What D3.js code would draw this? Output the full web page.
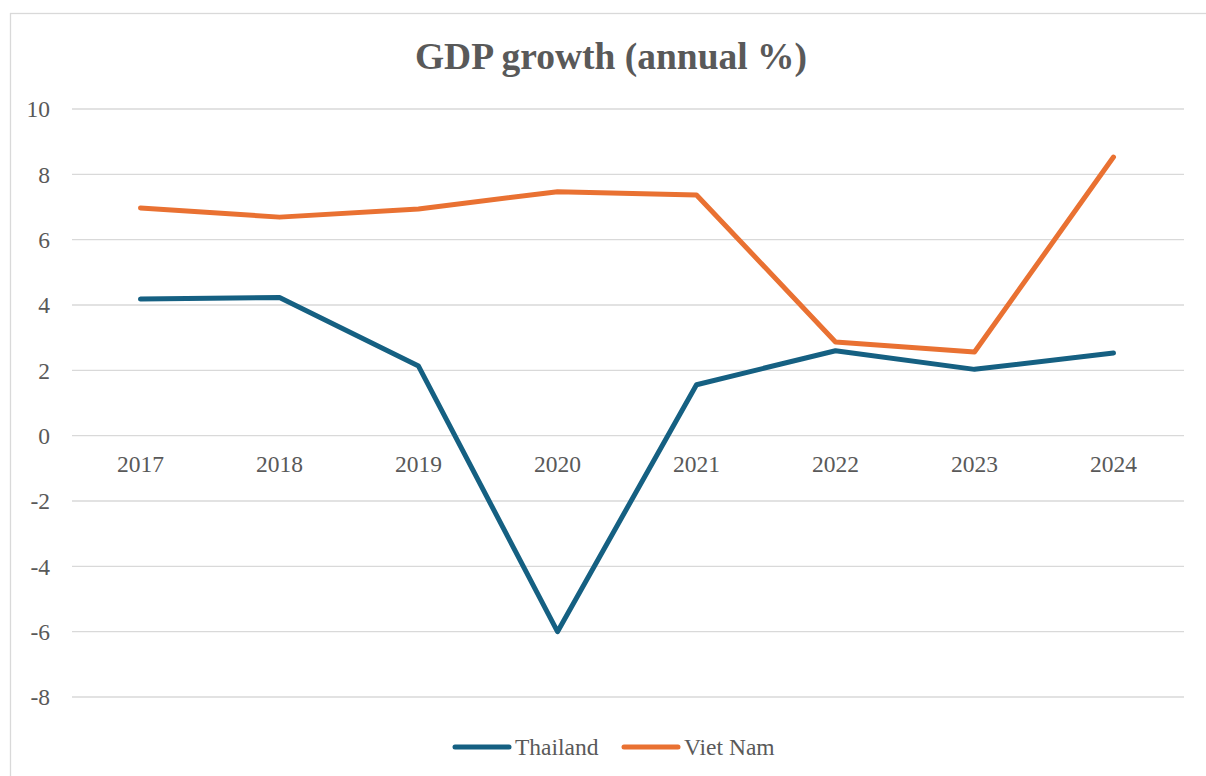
<!DOCTYPE html>
<html>
<head>
<meta charset="utf-8">
<script src="https://cdn.jsdelivr.net/npm/d3@7"></script>
<style>
  body { margin: 0; background: #fff; }
  text { font-family: 'Liberation Serif', 'Times New Roman', serif; }
</style>
</head>
<body>
<div id="chart"></div>
<script>
// values
const years = ['2017', '2018', '2019', '2020', '2021', '2022', '2023', '2024'];
const thailand = [4.18, 4.23, 2.13, -6.0, 1.56, 2.6, 2.03, 2.53];
const vietNam = [6.97, 6.69, 6.94, 7.47, 7.37, 2.87, 2.56, 8.53];
const yTicks = [-8, -6, -4, -2, 0, 2, 4, 6, 8, 10];

const series = [
  { name: 'Thailand', values: thailand, color: '#156082' },
  { name: 'Viet Nam', values: vietNam, color: '#E97132' },
];

const size = { width: 1206, height: 776 };
const margin = { left: 72, right: 22, top: 109, bottom: 79 };
const textColor = '#595959';

const svg = d3.select('#chart').append('svg')
  .attr('width', size.width)
  .attr('height', size.height);

// chart frame (cut off on the right and bottom, as in the picture)
svg.append('rect')
  .attr('x', 10.5).attr('y', 13.5)
  .attr('width', 1210).attr('height', 800)
  .attr('fill', 'none')
  .attr('stroke', '#d9d9d9')
  .attr('stroke-width', 1.3);

svg.append('text')
  .attr('x', 611).attr('y', 69)
  .attr('text-anchor', 'middle')
  .attr('fill', textColor)
  .style('font-size', '37.5px')
  .style('font-weight', 'bold')
  .text('GDP growth (annual %)');

const x = d3.scaleBand()
  .domain(years)
  .range([margin.left, size.width - margin.right]);

const y = d3.scaleLinear()
  .domain([-8, 10])
  .range([size.height - margin.bottom, margin.top]);

// gridlines
svg.append('g')
  .selectAll('line')
  .data(yTicks)
  .join('line')
  .attr('x1', margin.left)
  .attr('x2', size.width - margin.right)
  .attr('y1', (d) => y(d))
  .attr('y2', (d) => y(d))
  .attr('stroke', '#d9d9d9')
  .attr('stroke-width', 1.3);

// y labels
svg.append('g')
  .selectAll('text')
  .data(yTicks)
  .join('text')
  .attr('x', 50)
  .attr('y', (d) => y(d))
  .attr('dy', '0.35em')
  .attr('text-anchor', 'end')
  .attr('fill', textColor)
  .style('font-size', '23.5px')
  .text((d) => d);

// category labels sit next to the zero line
svg.append('g')
  .selectAll('text')
  .data(years)
  .join('text')
  .attr('x', (d) => x(d) + x.bandwidth() / 2 - 1)
  .attr('y', y(0) + 28)
  .attr('dy', '0.35em')
  .attr('text-anchor', 'middle')
  .attr('fill', textColor)
  .style('font-size', '23.5px')
  .text((d) => d);

const line = d3.line()
  .x((d, i) => x(years[i]) + x.bandwidth() / 2 - 1)
  .y((d) => y(d));

svg.append('g')
  .selectAll('path')
  .data(series)
  .join('path')
  .attr('d', (d) => line(d.values))
  .attr('fill', 'none')
  .attr('stroke', (d) => d.color)
  .attr('stroke-width', 5)
  .attr('stroke-linecap', 'round')
  .attr('stroke-linejoin', 'round');

// legend
const legendX = [455, 624];
const legend = svg.append('g')
  .selectAll('g')
  .data(series)
  .join('g')
  .attr('transform', (d, i) => `translate(${legendX[i]}, 747)`);

legend.append('line')
  .attr('x1', 0).attr('x2', 54)
  .attr('stroke', (d) => d.color)
  .attr('stroke-width', 5)
  .attr('stroke-linecap', 'round');

legend.append('text')
  .attr('x', 60)
  .attr('dy', '0.35em')
  .attr('fill', textColor)
  .style('font-size', '23.5px')
  .text((d) => d.name);
</script>
</body>
</html>
